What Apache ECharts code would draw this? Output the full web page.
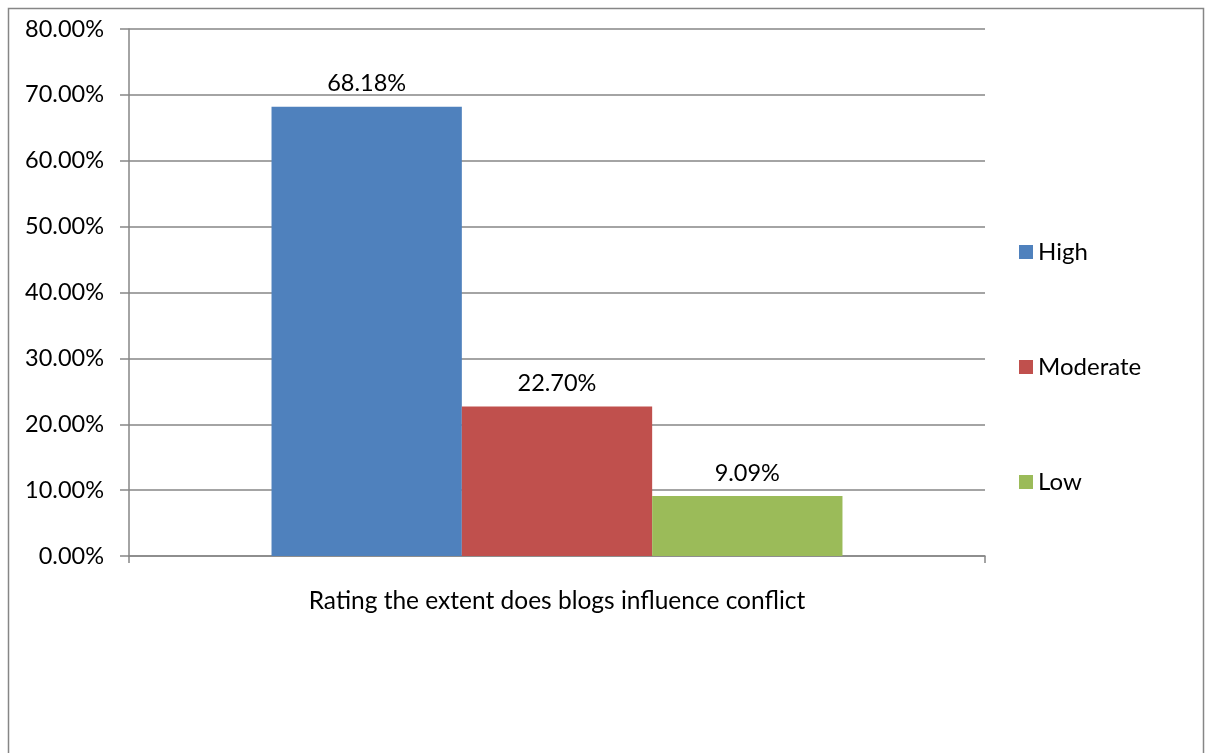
<!DOCTYPE html>
<html>
<head>
<meta charset="utf-8">
<title>Blogs and conflict</title>
<script src="https://cdn.jsdelivr.net/npm/echarts@6/dist/echarts.min.js"></script>
<style>
  html, body { margin: 0; padding: 0; background: #ffffff; }
  #chart { width: 1205px; height: 753px; }
</style>
</head>
<body>
<div id="chart"></div>
<script>
// Survey result: share of respondents per rating
const axisTitle = 'Rating the extent does blogs influence conflict';
const categories = [''];
const seriesNames = ['High', 'Moderate', 'Low'];
const highValues = [0.6818];
const moderateValues = [0.2270];
const lowValues = [0.0909];
const yTicks = [0, 0.1, 0.2, 0.3, 0.4, 0.5, 0.6, 0.7, 0.8];

const colors = ['#4F81BD', '#C0504D', '#9BBB59'];
const FONT = 'Lato, "Open Sans", sans-serif';
const GRID_GRAY = '#868686';

const pct = v => (v * 100).toFixed(2) + '%';

function barSeries(name, data) {
  return {
    name: name,
    type: 'bar',
    data: data,
    barGap: '0%',
    barCategoryGap: '33.3%',
    label: {
      show: true,
      position: 'top',
      distance: 11,
      formatter: p => pct(p.value),
      color: '#000',
      fontFamily: FONT,
      fontSize: 23.5
    }
  };
}

const chart = echarts.init(document.getElementById('chart'), null, { renderer: 'canvas' });
chart.setOption({
  animation: false,
  color: colors,
  textStyle: { fontFamily: FONT },
  graphic: [{
    type: 'rect',
    shape: { x: 8.5, y: 8.5, width: 1195, height: 760 },
    style: { fill: 'none', stroke: GRID_GRAY, lineWidth: 1.5 },
    silent: true
  }],
  grid: { left: 129, right: 220, top: 29, bottom: 197, containLabel: false },
  legend: {
    orient: 'vertical',
    left: 1014,
    top: 235,
    itemWidth: 14,
    itemHeight: 14,
    itemGap: 91,
    icon: 'rect',
    data: seriesNames,
    textStyle: { fontFamily: FONT, fontSize: 24, color: '#000', lineHeight: 24 }
  },
  xAxis: {
    type: 'category',
    data: categories,
    name: axisTitle,
    nameLocation: 'middle',
    nameGap: 33,
    nameTextStyle: { fontFamily: FONT, fontSize: 24.5, color: '#000' },
    axisLine: { show: true, lineStyle: { color: GRID_GRAY, width: 1.5 } },
    axisTick: { show: true, length: 7, lineStyle: { color: GRID_GRAY, width: 1.5 } },
    axisLabel: { show: false }
  },
  yAxis: {
    type: 'value',
    min: yTicks[0],
    max: yTicks[yTicks.length - 1],
    interval: yTicks[1] - yTicks[0],
    axisLine: { show: true, lineStyle: { color: GRID_GRAY, width: 1.5 } },
    axisTick: { show: true, length: 9, lineStyle: { color: GRID_GRAY, width: 1.5 } },
    splitLine: { show: true, lineStyle: { color: GRID_GRAY, width: 1.5 } },
    axisLabel: {
      margin: 25,
      formatter: v => pct(v),
      fontFamily: FONT,
      fontSize: 23.5,
      color: '#000'
    }
  },
  series: [
    barSeries(seriesNames[0], highValues),
    barSeries(seriesNames[1], moderateValues),
    barSeries(seriesNames[2], lowValues)
  ]
});
</script>
</body>
</html>
